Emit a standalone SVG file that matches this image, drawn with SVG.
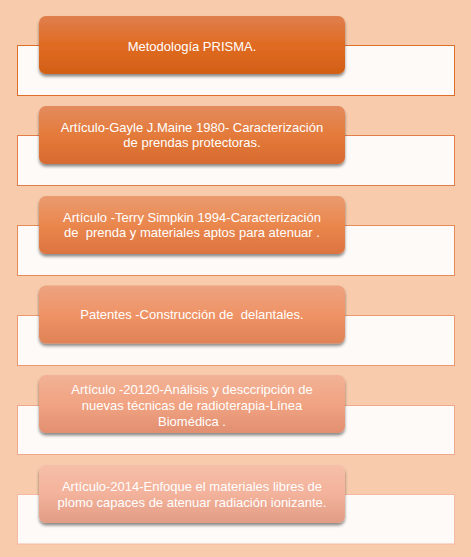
<svg xmlns="http://www.w3.org/2000/svg" width="471" height="557" viewBox="0 0 471 557">
<style>
.t{font-family:"Liberation Sans",Arial,sans-serif;font-size:13px;fill:#FFFFFF;text-anchor:middle;white-space:pre}
.band{fill:#FEFAF7;stroke-width:1}
</style>
<defs>
<filter id="sh" x="-10%" y="-20%" width="120%" height="150%">
<feDropShadow dx="0" dy="2.5" stdDeviation="1.6" flood-color="#000" flood-opacity="0.45"/>
</filter>
<linearGradient id="g1" x1="0" y1="0" x2="0" y2="1"><stop offset="0" stop-color="#DF7F4E"/><stop offset="0.5" stop-color="#E06B22"/><stop offset="1" stop-color="#D25F17"/></linearGradient>
<linearGradient id="g2" x1="0" y1="0" x2="0" y2="1"><stop offset="0" stop-color="#E38B5E"/><stop offset="0.5" stop-color="#E47A3A"/><stop offset="1" stop-color="#D76B30"/></linearGradient>
<linearGradient id="g3" x1="0" y1="0" x2="0" y2="1"><stop offset="0" stop-color="#EA9B70"/><stop offset="0.5" stop-color="#EA874D"/><stop offset="1" stop-color="#DC7440"/></linearGradient>
<linearGradient id="g4" x1="0" y1="0" x2="0" y2="1"><stop offset="0" stop-color="#EDA381"/><stop offset="0.5" stop-color="#EF9366"/><stop offset="1" stop-color="#DF8256"/></linearGradient>
<linearGradient id="g5" x1="0" y1="0" x2="0" y2="1"><stop offset="0" stop-color="#F2B296"/><stop offset="0.5" stop-color="#F1A382"/><stop offset="1" stop-color="#E18F70"/></linearGradient>
<linearGradient id="g6" x1="0" y1="0" x2="0" y2="1"><stop offset="0" stop-color="#F6BEA8"/><stop offset="0.5" stop-color="#F3B29B"/><stop offset="1" stop-color="#E29C84"/></linearGradient>
</defs>
<rect x="0" y="0" width="471" height="557" fill="#F7CBAC"/>
<g id="node1">
<rect class="band" x="17.5" y="45.5" width="437" height="50" stroke="#DD6F2B"/>
<rect x="39" y="16" width="306" height="58" rx="7" fill="url(#g1)" filter="url(#sh)"/>
<text class="t" x="192" y="50.5">Metodología PRISMA.</text>
</g>
<g id="node2">
<rect class="band" x="17.5" y="135.5" width="437" height="50" stroke="#E07D48"/>
<rect x="39" y="106" width="306" height="58" rx="7" fill="url(#g2)" filter="url(#sh)"/>
<text class="t" x="192" y="132">Artículo-Gayle J.Maine 1980- Caracterización</text>
<text class="t" x="192" y="147">de prendas protectoras.</text>
</g>
<g id="node3">
<rect class="band" x="17.5" y="225.5" width="437" height="50" stroke="#E68A58"/>
<rect x="39" y="196" width="306" height="58" rx="7" fill="url(#g3)" filter="url(#sh)"/>
<text class="t" x="192" y="222">Artículo -Terry Simpkin 1994-Caracterización</text>
<text class="t" x="192" y="237">de  prenda y materiales aptos para atenuar .</text>
</g>
<g id="node4">
<rect class="band" x="17.5" y="315.5" width="437" height="50" stroke="#EC9870"/>
<rect x="39" y="285.5" width="306" height="58" rx="7" fill="url(#g4)" filter="url(#sh)"/>
<text class="t" x="192" y="319">Patentes -Construcción de  delantales.</text>
</g>
<g id="node5">
<rect class="band" x="17.5" y="405.5" width="437" height="49" stroke="#F0A88A"/>
<rect x="39" y="375" width="306" height="58" rx="7" fill="url(#g5)" filter="url(#sh)"/>
<text class="t" x="192" y="393.5">Artículo -20120-Análisis y desccripción de</text>
<text class="t" x="192" y="409.5">nuevas técnicas de radioterapia-Línea</text>
<text class="t" x="192" y="425.5">Biomédica .</text>
</g>
<g id="node6">
<rect class="band" x="17.5" y="494.5" width="437" height="49.5" stroke="#F5B8A2"/>
<rect x="39" y="465" width="306" height="58" rx="7" fill="url(#g6)" filter="url(#sh)"/>
<text class="t" x="192" y="491">Artículo-2014-Enfoque el materiales libres de</text>
<text class="t" x="192" y="507">plomo capaces de atenuar radiación ionizante.</text>
</g>
<g id="connectors"></g>
</svg>
